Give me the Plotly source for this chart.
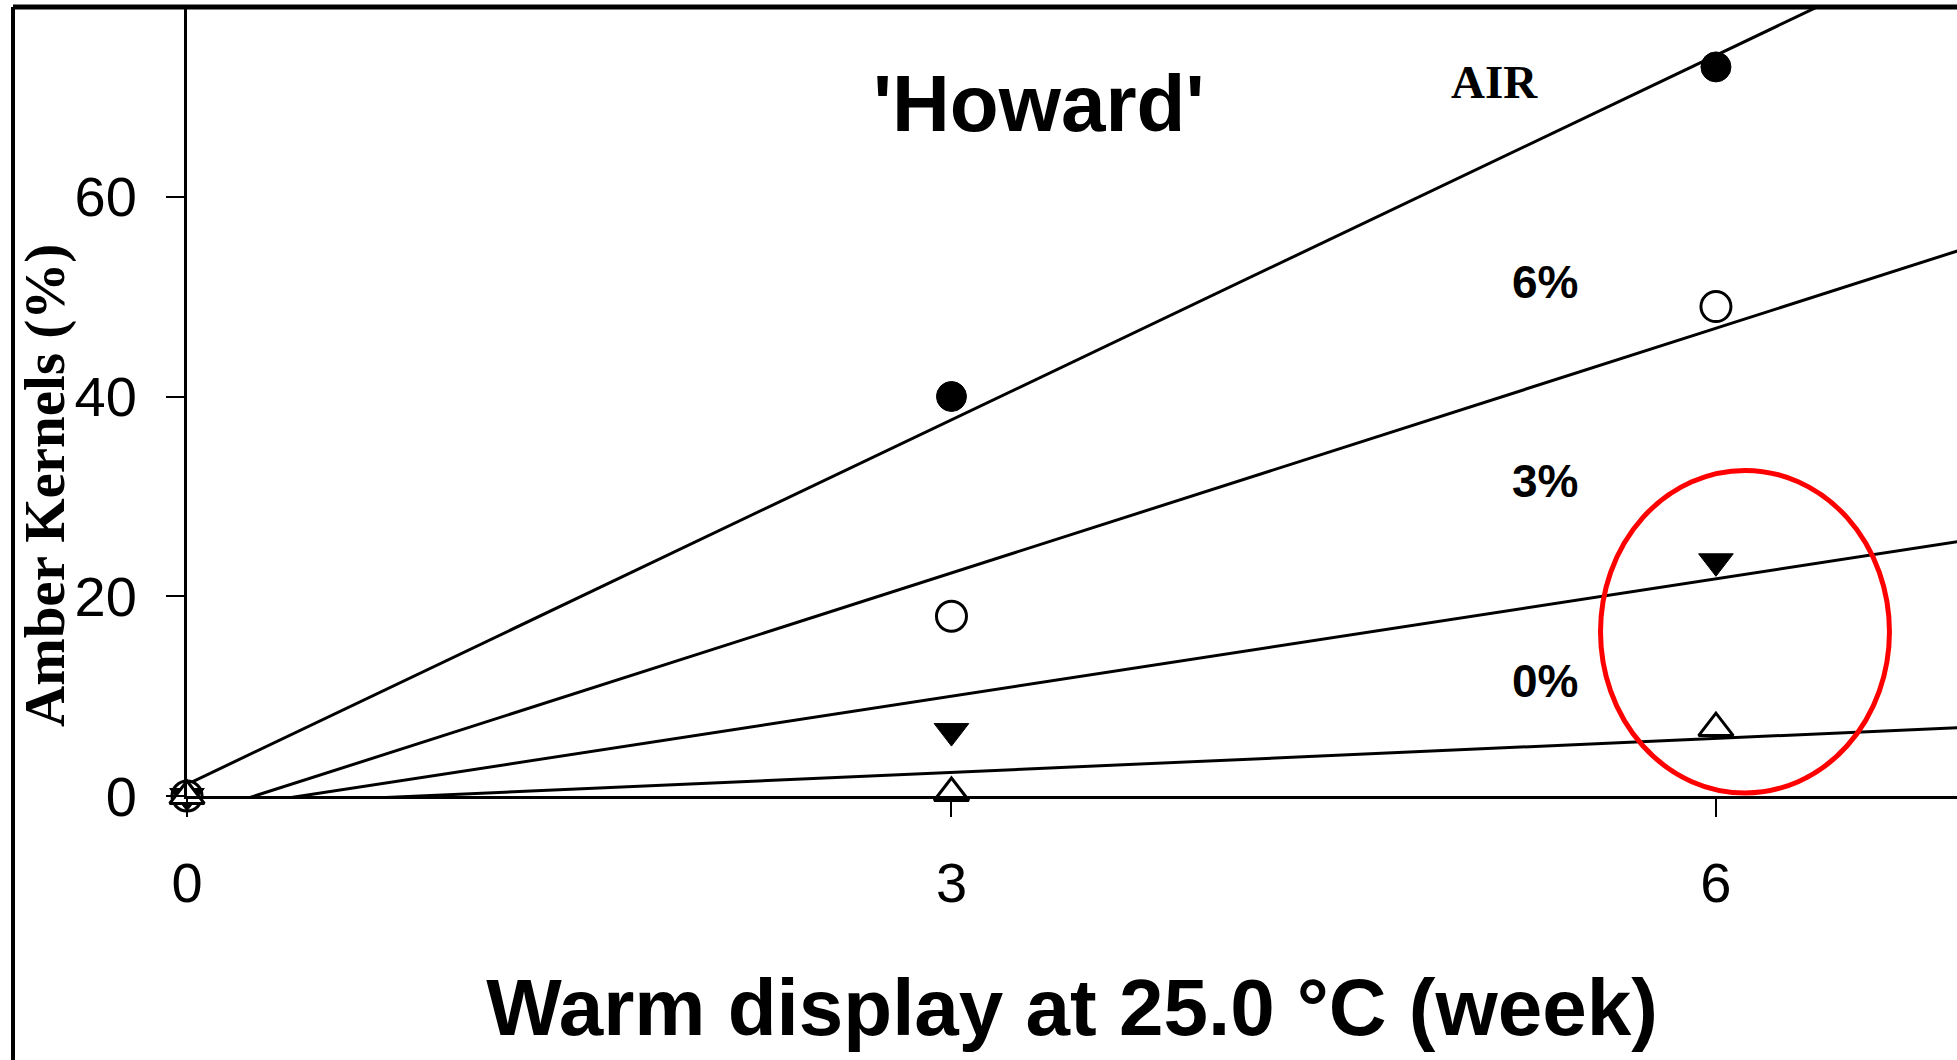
import numpy as np
import plotly.graph_objects as go

weeks = [0, 3, 6]
air = [0, 40, 73]
o2_6 = [0, 18, 49]
o2_3 = [0, 6.5, 23.5]
o2_0 = [0, 0.3, 6.8]

series_names = ["AIR", "6%", "3%", "0%"]
series_values = [air, o2_6, o2_3, o2_0]
series_symbols = ["circle", "circle", "triangle-down", "triangle-up"]
series_fill = ["black", "white", "black", "white"]
label_x = [5.13, 5.33, 5.33, 5.33]
label_y = [71.5, 51.5, 31.5, 11.5]

x_ticks = [0, 3, 6]
y_ticks = [0, 20, 40, 60]

XMAX = 6.946
YMAX = 79.0

fig = go.Figure()

# regression lines (clipped to the axes)
xfit = np.array([0.0, 7.5])
for name, vals in zip(series_names, series_values):
    slope, icpt = np.polyfit(weeks, vals, 1)
    fig.add_trace(go.Scatter(x=xfit, y=slope * xfit + icpt, mode="lines",
                             line=dict(color="black", width=3),
                             showlegend=False, hoverinfo="skip"))

for name, vals, sym, fill in zip(series_names, series_values, series_symbols, series_fill):
    size = 30 if sym == "circle" else 30
    fig.add_trace(go.Scatter(x=weeks, y=vals, mode="markers", name=name,
                             cliponaxis=False,
                             marker=dict(symbol=sym, size=size, color=fill,
                                         line=dict(color="black", width=3 if fill == "white" else 1)),
                             showlegend=False))

# series labels
for i, name in enumerate(series_names):
    if name == "AIR":
        f = dict(family="Liberation Serif, Times New Roman, serif", size=47, color="black")
    else:
        f = dict(family="Liberation Sans, Arial, sans-serif", size=46, color="black")
    fig.add_annotation(x=label_x[i], y=label_y[i], text="<b>%s</b>" % name, showarrow=False,
                       font=f, xanchor="center", yanchor="middle")

# chart title inside plot
fig.add_annotation(x=(1038 - 187) / 1770, y=1 - (104 - 7) / 789, xref="paper", yref="paper",
                   text="<b>'Howard'</b>", showarrow=False,
                   font=dict(family="Liberation Sans, Arial, sans-serif", size=80, color="black"),
                   xanchor="center", yanchor="middle")

# y-axis title (placed like the original, below plot centre)
fig.add_annotation(x=(45 - 187) / 1770, y=1 - (486 - 7) / 789, xref="paper", yref="paper",
                   text="<b>Amber Kernels (%)</b>", textangle=-90, showarrow=False,
                   font=dict(family="Liberation Serif, Times New Roman, serif", size=57, color="black"),
                   xanchor="center", yanchor="middle")

# red highlight ellipse
fig.add_shape(type="circle", xref="x", yref="y", x0=5.547, x1=6.681, y0=0.3, y1=32.6,
              line=dict(color="#ff0000", width=5), layer="above")

# image frame (left and top edges)
fig.add_shape(type="line", xref="paper", yref="paper",
              x0=(13 - 187) / 1770, x1=(13 - 187) / 1770, y0=-264 / 789, y1=1.0,
              line=dict(color="black", width=4))
fig.add_shape(type="line", xref="paper", yref="paper",
              x0=(13 - 187) / 1770, x1=1.0, y0=1.0, y1=1.0,
              line=dict(color="black", width=5))

tickfont = dict(family="Liberation Sans, Arial, sans-serif", size=56, color="black")

fig.update_layout(
    width=1957, height=1060,
    margin=dict(l=187, r=0, t=7, b=264),
    paper_bgcolor="white", plot_bgcolor="white",
    xaxis=dict(range=[0, XMAX], tickvals=x_ticks, ticktext=[str(v) for v in x_ticks],
               showgrid=False, zeroline=False, showline=True, linecolor="black", linewidth=3,
               ticks="outside", ticklen=18, tickwidth=2, tickcolor="black",
               tickfont=tickfont, ticklabelstandoff=18,
               title=dict(text="<b>Warm display at 25.0 °C (week)</b>",
                          font=dict(family="Liberation Sans, Arial, sans-serif", size=80, color="black"),
                          standoff=66)),
    yaxis=dict(range=[0, YMAX], tickvals=y_ticks, ticktext=[str(v) for v in y_ticks],
               showgrid=False, zeroline=False, showline=True, linecolor="black", linewidth=3,
               ticks="outside", ticklen=18, tickwidth=2, tickcolor="black",
               tickfont=tickfont, ticklabelstandoff=18),
)

fig.write_html("out.html")
